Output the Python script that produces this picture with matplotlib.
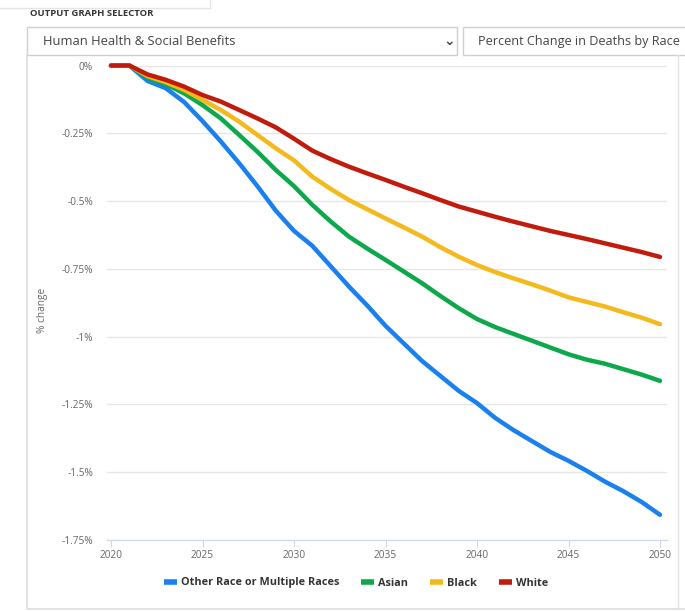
import matplotlib
matplotlib.use('Agg')
import matplotlib.pyplot as plt
from matplotlib.patches import Rectangle
from matplotlib.lines import Line2D

plt.rcParams['font.family'] = ['Open Sans', 'DejaVu Sans']
plt.rcParams['axes.unicode_minus'] = False

years = list(range(2020, 2051))
other_race = [0, 0, -0.057, -0.084, -0.135, -0.205, -0.28, -0.36, -0.445, -0.535, -0.61,
              -0.665, -0.74, -0.815, -0.885, -0.96, -1.025, -1.09, -1.145, -1.20, -1.245,
              -1.30, -1.345, -1.385, -1.425, -1.458, -1.495, -1.535, -1.57, -1.61, -1.657]
asian = [0, 0, -0.045, -0.069, -0.103, -0.146, -0.195, -0.256, -0.318, -0.385, -0.445,
         -0.514, -0.575, -0.631, -0.675, -0.717, -0.76, -0.803, -0.85, -0.895, -0.935,
         -0.965, -0.99, -1.015, -1.04, -1.065, -1.085, -1.10, -1.12, -1.14, -1.163]
black = [0, 0, -0.039, -0.062, -0.09, -0.127, -0.164, -0.207, -0.256, -0.305, -0.35,
         -0.41, -0.455, -0.496, -0.53, -0.564, -0.597, -0.631, -0.67, -0.705, -0.736,
         -0.762, -0.785, -0.807, -0.83, -0.855, -0.872, -0.889, -0.91, -0.93, -0.954]
white = [0, 0, -0.033, -0.053, -0.078, -0.109, -0.133, -0.164, -0.195, -0.228, -0.27,
         -0.314, -0.345, -0.373, -0.398, -0.422, -0.447, -0.471, -0.496, -0.52, -0.539,
         -0.558, -0.576, -0.593, -0.61, -0.625, -0.64, -0.656, -0.672, -0.688, -0.706]

series_names = ['Other Race or Multiple Races', 'Asian', 'Black', 'White']
series_colors = ['#1a80ee', '#0ca84b', '#f3b91d', '#c01b0c']
y_ticks = [0, -0.25, -0.5, -0.75, -1, -1.25, -1.5, -1.75]
y_tick_labels = ['0%', '-0.25%', '-0.5%', '-0.75%', '-1%', '-1.25%', '-1.5%', '-1.75%']
x_ticks = [2020, 2025, 2030, 2035, 2040, 2045, 2050]

W, H = 685, 612
fig = plt.figure(figsize=(W / 100, H / 100), dpi=100)
fig.patch.set_facecolor('white')

def px_rect(x0, y0, x1, y1, **kw):
    fig.patches.append(Rectangle((x0 / W, 1 - y1 / H), (x1 - x0) / W, (y1 - y0) / H,
                                 transform=fig.transFigure, **kw))

def px_line(xs, ys, **kw):
    fig.lines.append(Line2D([x / W for x in xs], [1 - y / H for y in ys],
                            transform=fig.transFigure, **kw))

# page chrome: top strip, selector header and dropdowns
px_line([0, 210], [8, 8], color='#e4e4e4', lw=1)
px_line([210, 210], [0, 8], color='#e4e4e4', lw=1)
fig.text(30 / W, 1 - 14 / H, 'OUTPUT GRAPH SELECTOR', fontsize=6.8, fontweight='bold',
         color='#333333', va='center', ha='left')
px_rect(27, 27, 457, 55, facecolor='white', edgecolor='#cfcfcf', lw=1)
fig.text(43 / W, 1 - 41.5 / H, 'Human Health & Social Benefits', fontsize=9.4,
         color='#444444', va='center', ha='left')
fig.text(449 / W, 1 - 41 / H, '\u2304', fontsize=10, color='#444444', va='center',
         ha='center', family=['DejaVu Sans'], fontweight='bold')
px_rect(463, 27, 690, 55, facecolor='white', edgecolor='#cfcfcf', lw=1)
fig.text(478 / W, 1 - 41.5 / H, 'Percent Change in Deaths by Race', fontsize=9.1,
         color='#444444', va='center', ha='left')

# chart panel border
px_line([27, 27, 690], [55, 609, 609], color='#dddddd', lw=1.2)
px_line([678, 678], [55, 609], color='#e2e2e2', lw=1)

ax = fig.add_axes([107 / W, 1 - 540 / H, (667 - 107) / W, (540 - 65.5) / H])
ax.set_facecolor('none')
for vals, name, color in zip([other_race, asian, black, white], series_names, series_colors):
    ax.plot(years, vals, color=color, lw=3.2, label=name, solid_capstyle='round',
            solid_joinstyle='round', clip_on=False, zorder=3)

ax.set_xlim(2020 - 4 / 18.3, 2050 + 7 / 18.3)
ax.set_ylim(-1.75, 0)
ax.set_yticks(y_ticks)
ax.set_yticklabels(y_tick_labels)
ax.set_xticks(x_ticks)
ax.set_xticklabels([str(x) for x in x_ticks])
ax.grid(axis='y', color='#e6e6e6', lw=1)
ax.set_axisbelow(True)
for side in ['top', 'right', 'left']:
    ax.spines[side].set_visible(False)
ax.spines['bottom'].set_color('#ccd6eb')
ax.spines['bottom'].set_zorder(1)
ax.tick_params(axis='y', length=0, pad=10, labelsize=7.3, labelcolor='#666666')
ax.tick_params(axis='x', length=5, color='#ccd6eb', pad=2, labelsize=7.3, labelcolor='#666666')
ax.set_ylabel('% change', fontsize=7.3, color='#666666')
ax.yaxis.set_label_coords((48 - 107) / 560, (540 - 310) / 474.5)

leg = fig.legend(*ax.get_legend_handles_labels(), loc='center',
                 bbox_to_anchor=(356 / W, 1 - 583 / H), ncol=4, frameon=False,
                 handlelength=1.2, handletextpad=0.4, columnspacing=2.0,
                 prop={'size': 7.8, 'weight': 'bold'})
for t in leg.get_texts():
    t.set_color('#333333')
for h in leg.get_lines():
    h.set_linewidth(4)
    h.set_solid_capstyle('butt')

fig.savefig('out.png', dpi=100)
